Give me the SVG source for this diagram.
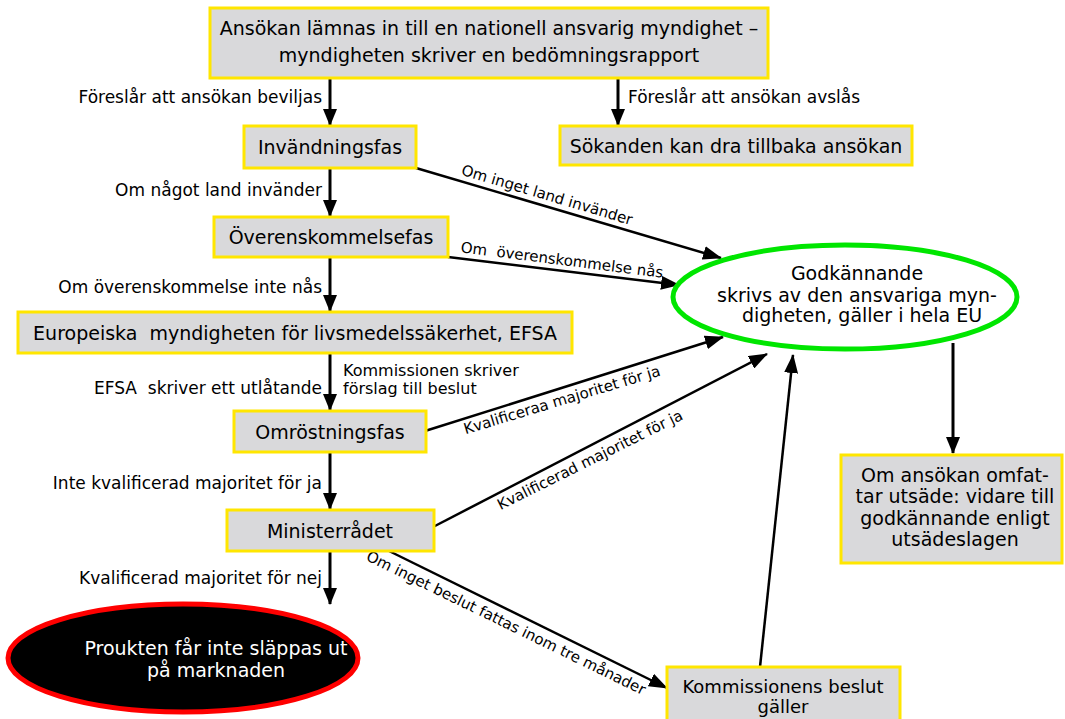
<svg xmlns="http://www.w3.org/2000/svg" width="1065" height="719" viewBox="0 0 1065 719">
<style>
.box{fill:#d9d9db;stroke:#ffe600;stroke-width:3}
.t{font-family:"DejaVu Sans",sans-serif;font-size:19px;fill:#000;text-anchor:middle}
.lbl{font-family:"DejaVu Sans",sans-serif;font-size:17px;fill:#000;white-space:pre}
.dl{font-family:"DejaVu Sans",sans-serif;font-size:15px;fill:#000;text-anchor:middle;white-space:pre}
.v{stroke:#000;stroke-width:3;fill:none;marker-end:url(#ah)}
.d{stroke:#000;stroke-width:2.5;fill:none;marker-end:url(#ah2)}
</style>
<defs>
<marker id="ah" markerWidth="17" markerHeight="14" refX="16" refY="7" orient="auto" markerUnits="userSpaceOnUse"><path d="M0,0 L17,7 L0,14 z" fill="#000"/></marker>
<marker id="ah2" markerWidth="19" markerHeight="14" refX="18" refY="7" orient="auto" markerUnits="userSpaceOnUse"><path d="M0,0 L19,7 L0,14 z" fill="#000"/></marker>
</defs>
<rect width="1065" height="719" fill="#fff"/>
<g id="connectors">
<line class="v" x1="330" y1="78" x2="330" y2="125"/>
<line class="v" x1="618" y1="78" x2="618" y2="125"/>
<line class="v" x1="330" y1="168" x2="330" y2="216"/>
<line class="v" x1="330" y1="257" x2="330" y2="311"/>
<line class="v" x1="330" y1="353" x2="330" y2="410"/>
<line class="v" x1="330" y1="452" x2="330" y2="509"/>
<line class="v" x1="330" y1="551" x2="330" y2="604"/>
<line class="v" x1="953" y1="343" x2="953" y2="453"/>
<line class="d" x1="416" y1="168" x2="721" y2="258"/>
<line class="d" x1="448" y1="257" x2="679" y2="285"/>
<line class="d" x1="425" y1="431" x2="723" y2="337"/>
<line class="d" x1="433" y1="527" x2="767" y2="354"/>
<line class="d" x1="387" y1="550" x2="667" y2="688"/>
<line class="d" x1="760" y1="667" x2="793" y2="355"/>
<text class="lbl" x="322" y="103" text-anchor="end">Föreslår att ansökan beviljas</text>
<text class="lbl" x="628" y="103">Föreslår att ansökan avslås</text>
<text class="lbl" x="322" y="196" text-anchor="end">Om något land invänder</text>
<text class="lbl" x="322" y="293" text-anchor="end">Om överenskommelse inte nås</text>
<text class="lbl" x="322" y="394" text-anchor="end">EFSA  skriver ett utlåtande</text>
<text class="lbl" x="343" y="376" style="font-size:16px">Kommissionen skriver</text>
<text class="lbl" x="343" y="394" style="font-size:16px">förslag till beslut</text>
<text class="lbl" x="322" y="489" text-anchor="end">Inte kvalificerad majoritet för ja</text>
<text class="lbl" x="322" y="584" text-anchor="end">Kvalificerad majoritet för nej</text>
<text class="dl" transform="translate(547,195) rotate(16.5)" y="5">Om inget land invänder</text>
<text class="dl" transform="translate(562,260) rotate(7.2)" y="5">Om  överenskommelse nås</text>
<text class="dl" transform="translate(562,400) rotate(-16.8)" y="5">Kvalificeraa majoritet för ja</text>
<text class="dl" transform="translate(590,460) rotate(-26.5)" y="5">Kvalificerad majoritet för ja</text>
<text class="dl" transform="translate(506,623) rotate(26)" y="5">Om inget beslut fattas inom tre månader</text>
</g>
<g id="n-start">
<rect class="box" x="210" y="8" width="558" height="70"/>
<text class="t" x="489" y="35">Ansökan lämnas in till en nationell ansvarig myndighet –</text>
<text class="t" x="489" y="62">myndigheten skriver en bedömningsrapport</text>
</g>
<g id="n-invandning">
<rect class="box" x="244" y="126" width="172" height="42"/>
<text class="t" x="330" y="154">Invändningsfas</text>
</g>
<g id="n-sokanden">
<rect class="box" x="560" y="126" width="352" height="39"/>
<text class="t" x="736" y="153">Sökanden kan dra tillbaka ansökan</text>
</g>
<g id="n-overens">
<rect class="box" x="214" y="217" width="234" height="40"/>
<text class="t" x="331" y="244">Överenskommelsefas</text>
</g>
<g id="n-efsa">
<rect class="box" x="18" y="312" width="554" height="41"/>
<text class="t" x="295" y="340" style="white-space:pre">Europeiska  myndigheten för livsmedelssäkerhet, EFSA</text>
</g>
<g id="n-omrostning">
<rect class="box" x="234" y="411" width="192" height="41"/>
<text class="t" x="330" y="439">Omröstningsfas</text>
</g>
<g id="n-minister">
<rect class="box" x="227" y="510" width="207" height="41"/>
<text class="t" x="330" y="538">Ministerrådet</text>
</g>
<g id="n-godkannande">
<ellipse cx="845" cy="297" rx="172" ry="52" fill="#fff" stroke="#00e600" stroke-width="5"/>
<text class="t" x="857" y="280">Godkännande</text>
<text class="t" x="857" y="302">skrivs av den ansvariga myn-</text>
<text class="t" x="862" y="322">digheten, gäller i hela EU</text>
</g>
<g id="n-utsade">
<rect class="box" x="841" y="455" width="221" height="108"/>
<text class="t" x="955" y="482">Om ansökan omfat-</text>
<text class="t" x="955" y="503">tar utsäde: vidare till</text>
<text class="t" x="955" y="525">godkännande enligt</text>
<text class="t" x="955" y="546">utsädeslagen</text>
</g>
<g id="n-kommission">
<rect class="box" x="667" y="667" width="233" height="60"/>
<text class="t" x="783" y="693" style="font-size:18px">Kommissionens beslut</text>
<text class="t" x="783" y="713" style="font-size:18px">gäller</text>
</g>
<g id="n-nej">
<ellipse cx="183" cy="658" rx="175" ry="54" fill="#000" stroke="#ff0000" stroke-width="5"/>
<text class="t" x="216" y="655" style="fill:#fff">Proukten får inte släppas ut</text>
<text class="t" x="216" y="677" style="fill:#fff">på marknaden</text>
</g>
</svg>
